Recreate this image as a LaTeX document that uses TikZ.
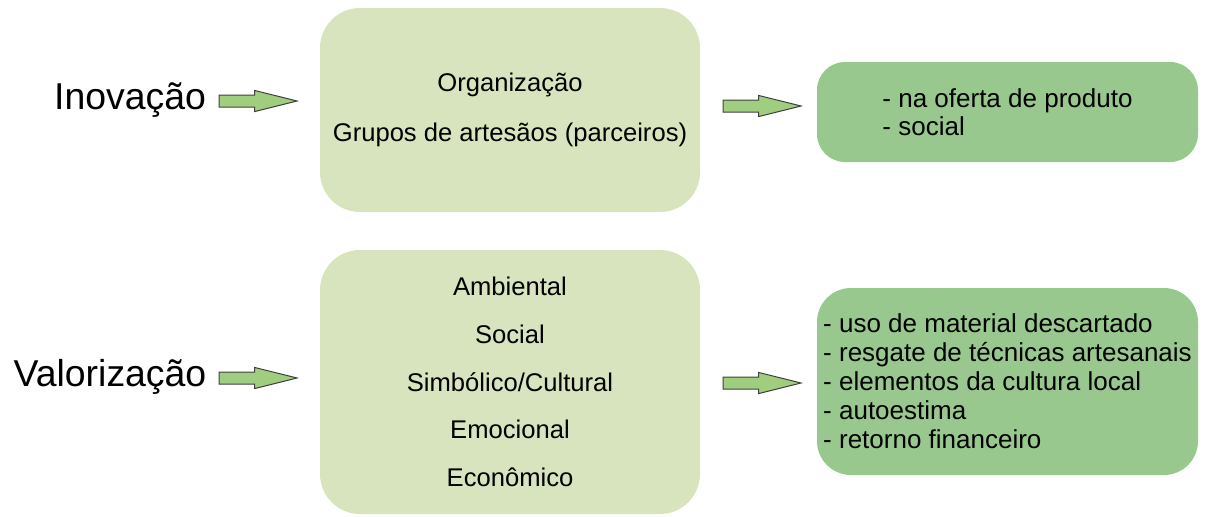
\documentclass[tikz,border=0pt]{standalone}
\usepackage{fontspec}
\setmainfont{Liberation Sans}
\usetikzlibrary{shapes.arrows}

\definecolor{lightbox}{RGB}{215,228,189}
\definecolor{darkbox}{RGB}{152,200,141}
\definecolor{arrowfill}{RGB}{160,206,126}

\begin{document}
\begin{tikzpicture}[x=0.5pt,y=-0.5pt,
  box/.style={rectangle,rounded corners=20pt,fill=lightbox,
    minimum width=190pt,inner sep=0pt,align=center,
    font=\fontsize{12.8}{25}\selectfont},
  result/.style={rectangle,rounded corners=14pt,fill=darkbox,
    minimum width=190.5pt,inner sep=0pt,align=left,
    font=\fontsize{13}{14.2}\selectfont},
  title/.style={font=\fontsize{18.7}{20}\selectfont,inner sep=0pt},
  fat/.style={single arrow,draw=black!75,line width=0.5pt,fill=arrowfill,
    minimum height=39pt,inner xsep=0pt,inner ysep=2.75pt,
    single arrow head extend=2.3pt,single arrow tip angle=28}]

  \useasboundingbox (0,0) rectangle (1207,516);

  % upper row
  \node[title] (inov) at (130,100) {Inovação};
  \node[box,minimum height=102pt] (org) at (510,110)
    {Organização\\Grupos de artesãos (parceiros)};
  \node[result,minimum height=50pt] (inovres) at (1007.5,112)
    {- na oferta de produto\\- social};

  % lower row
  \node[title] (valor) at (110,377) {Valorização};
  \node[box,minimum height=132pt,font=\fontsize{12.8}{23.8}\selectfont] (dims) at (510,382)
    {Ambiental\\Social\\Simbólico/Cultural\\Emocional\\Econômico};
  \node[result,minimum height=93.5pt,rounded corners=17pt,
    font=\fontsize{13}{14.5}\selectfont] (valorres) at (1007.5,381.5)
    {- uso de material descartado\\- resgate de técnicas artesanais\\
     - elementos da cultura local\\- autoestima\\- retorno financeiro};

  % block arrows
  \node[fat] (a1) at (246,101) {};
  \node[fat] (a2) at (750,106) {};
  \node[fat] (a3) at (246,378) {};
  \node[fat] (a4) at (750,383) {};
\end{tikzpicture}
\end{document}
